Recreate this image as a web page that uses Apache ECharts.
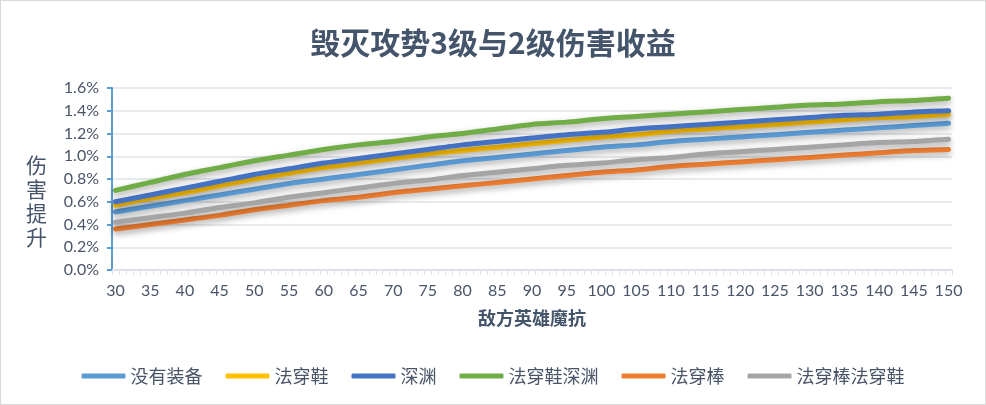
<!DOCTYPE html>
<html>
<head>
<meta charset="utf-8">
<script src="https://cdn.jsdelivr.net/npm/echarts@6/dist/echarts.min.js"></script>
<style>
html,body{margin:0;padding:0;background:#fff;}
#c{width:984px;height:403px;border:1px solid #D9D9D9;}
</style>
</head>
<body>
<div id="c"></div>
<script>
// categories: enemy hero magic resistance 30..150
var categories = [];
for (var i = 30; i <= 150; i++) categories.push(String(i));
// values read every 5 units (in %)
var xs = [30,35,40,45,50,55,60,65,70,75,80,85,90,95,100,105,110,115,120,125,130,135,140,145,150];
var noItem   = [0.51,0.56,0.61,0.66,0.71,0.76,0.80,0.84,0.88,0.92,0.96,0.99,1.02,1.05,1.08,1.10,1.13,1.15,1.17,1.19,1.21,1.23,1.25,1.27,1.29];
var shoes    = [0.57,0.63,0.68,0.74,0.80,0.85,0.90,0.94,0.98,1.02,1.05,1.08,1.11,1.14,1.17,1.19,1.22,1.24,1.26,1.28,1.30,1.32,1.34,1.35,1.37];
var abyss    = [0.60,0.66,0.72,0.78,0.84,0.89,0.94,0.98,1.02,1.06,1.10,1.13,1.16,1.19,1.21,1.24,1.26,1.28,1.30,1.32,1.34,1.36,1.37,1.39,1.40];
var shoesAbyss = [0.70,0.77,0.84,0.90,0.96,1.01,1.06,1.10,1.13,1.17,1.20,1.24,1.28,1.30,1.33,1.35,1.37,1.39,1.41,1.43,1.45,1.46,1.48,1.49,1.51];
var staff    = [0.36,0.40,0.44,0.48,0.53,0.57,0.61,0.64,0.68,0.71,0.74,0.77,0.80,0.83,0.86,0.88,0.91,0.93,0.95,0.97,0.99,1.01,1.03,1.05,1.06];
var staffShoes = [0.42,0.46,0.50,0.55,0.59,0.64,0.68,0.72,0.76,0.79,0.83,0.86,0.89,0.92,0.94,0.97,0.99,1.02,1.04,1.06,1.08,1.10,1.12,1.13,1.15];
var seriesNames = ['没有装备','法穿鞋','深渊','法穿鞋深渊','法穿棒','法穿棒法穿鞋'];
var seriesData = [noItem, shoes, abyss, shoesAbyss, staff, staffShoes];
var colors = ['#5B9BD5','#FFC000','#4472C4','#70AD47','#ED7D31','#A5A5A5'];
var yTicks = [0,0.2,0.4,0.6,0.8,1.0,1.2,1.4,1.6];

var txt = '#4A5568';
var fontLatin = 'Lato, "Noto Sans CJK SC", sans-serif';
var fontCJK = '"Noto Sans CJK SC", sans-serif';

var chart = echarts.init(document.getElementById('c'), null, {renderer:'canvas'});
chart.setOption({
  animation: false,
  backgroundColor: '#fff',
  title: {
    text: '毁灭攻势3级与2级伤害收益',
    left: 'center',
    top: 22,
    textStyle: {fontFamily: fontCJK, fontSize: 30, fontWeight: 'bold', color: '#44546A'}
  },
  graphic: [{
    type: 'text',
    left: 25,
    top: 152,
    style: {text: '伤\n害\n提\n升', fontFamily: fontCJK, fontSize: 21, lineHeight: 24, fill: '#44546A'}
  }],
  legend: {
    data: seriesNames,
    left: 'center',
    top: 361,
    icon: 'roundRect',
    itemWidth: 44,
    itemHeight: 5,
    itemGap: 23,
    textStyle: {fontFamily: fontCJK, fontSize: 18, color: txt}
  },
  grid: {left: 111, right: 33, top: 87, bottom: 134, containLabel: false},
  xAxis: {
    type: 'category',
    data: categories,
    boundaryGap: true,
    name: '敌方英雄魔抗',
    nameLocation: 'middle',
    nameGap: 39,
    nameTextStyle: {fontFamily: fontCJK, fontSize: 18, fontWeight: 'bold', color: '#44546A'},
    axisLine: {lineStyle: {color: '#DDE1E8', width: 2}},
    axisTick: {show: true, interval: 0, length: 5, lineStyle: {color: '#DDE1E8', width: 1}},
    axisLabel: {interval: 4, margin: 13, fontFamily: fontLatin, fontSize: 16, color: txt},
    splitLine: {show: false}
  },
  yAxis: {
    type: 'value',
    min: yTicks[0],
    max: yTicks[yTicks.length-1],
    interval: 0.2,
    axisLine: {show: true, lineStyle: {color: '#5B9BD5', width: 2}},
    axisTick: {show: true, length: 5, lineStyle: {color: '#5B9BD5', width: 2}},
    axisLabel: {margin: 13, fontFamily: fontLatin, fontSize: 16, color: txt,
      formatter: function(v){ return v.toFixed(1) + '%'; }},
    splitLine: {show: true, lineStyle: {color: '#E7EAEE', width: 2}}
  },
  series: seriesNames.map(function(name, k){
    return {
      name: name,
      type: 'line',
      data: xs.map(function(x, j){ return [String(x), seriesData[k][j]]; }),
      showSymbol: false,
      symbol: 'none',
      smooth: 0.2,
      color: colors[k],
      lineStyle: {width: 5, color: colors[k], cap: 'round', join: 'round',
        shadowColor: 'rgba(0,0,0,0.35)', shadowBlur: 6, shadowOffsetY: 3}
    };
  })
});
</script>
</body>
</html>
